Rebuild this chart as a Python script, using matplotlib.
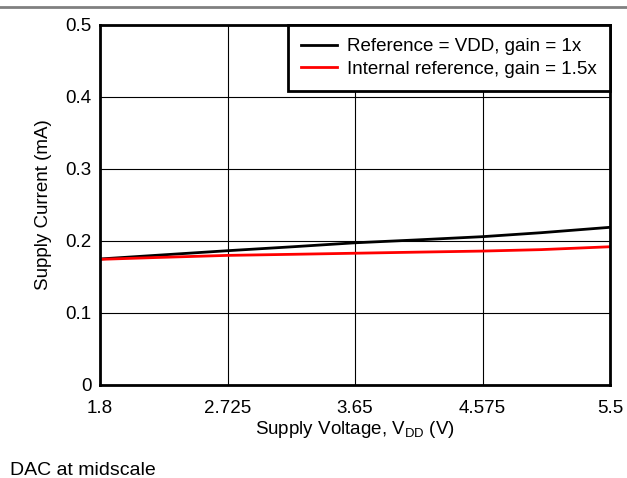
import numpy as np
import matplotlib.pyplot as plt
from matplotlib.lines import Line2D

plt.rcParams['font.family'] = ['Liberation Sans', 'DejaVu Sans']

# supply voltage (V)
vdd = [1.8, 2.2, 2.725, 3.2, 3.65, 4.1, 4.575, 5.0, 5.5]
# supply current (mA)
i_vdd_ref = [0.175, 0.180, 0.1865, 0.192, 0.1975, 0.2015, 0.206, 0.2115, 0.219]
i_int_ref = [0.1745, 0.1770, 0.180, 0.1815, 0.183, 0.1845, 0.186, 0.188, 0.192]

xticks = [1.8, 2.725, 3.65, 4.575, 5.5]
xlabels = ['1.8', '2.725', '3.65', '4.575', '5.5']
yticks = [0, 0.1, 0.2, 0.3, 0.4, 0.5]
ylabels = ['0', '0.1', '0.2', '0.3', '0.4', '0.5']

fs = 13.5

fig = plt.figure(figsize=(6.27, 4.78), dpi=100)
ax = fig.add_axes([0.1595, 0.1946, 0.8135, 0.7531])

ax.plot(vdd, i_vdd_ref, color='black', lw=2, label='Reference = VDD, gain = 1x')
ax.plot(vdd, i_int_ref, color='#ff0000', lw=2, label='Internal reference, gain = 1.5x')

ax.set_xlim(1.8, 5.5)
ax.set_ylim(0, 0.5)
ax.set_xticks(xticks)
ax.set_xticklabels(xlabels)
ax.set_yticks(yticks)
ax.set_yticklabels(ylabels)
ax.tick_params(length=0, labelsize=fs)
ax.tick_params(axis='x', pad=10.5)
ax.tick_params(axis='y', pad=6)
ax.grid(True, color='black', lw=0.8)
for s in ax.spines.values():
    s.set_linewidth(2)

ax.set_xlabel('Supply Voltage, V$_{\\mathregular{DD}}$ (V)', fontsize=fs, labelpad=2)
ax.set_ylabel('Supply Current (mA)', fontsize=fs, labelpad=10)

leg = ax.legend(loc='upper right', fontsize=fs, fancybox=False, framealpha=1,
                edgecolor='black', borderaxespad=0, handlelength=1.9,
                borderpad=0.7, labelspacing=0.28, handletextpad=0.55)
leg.get_frame().set_linewidth(2)

fig.add_artist(Line2D([0, 1], [0.985, 0.985], color='#808080', lw=2))
fig.text(0.016, 0.0063, 'DAC at midscale', fontsize=14, ha='left', va='baseline')

fig.savefig('out.png', dpi=100)
